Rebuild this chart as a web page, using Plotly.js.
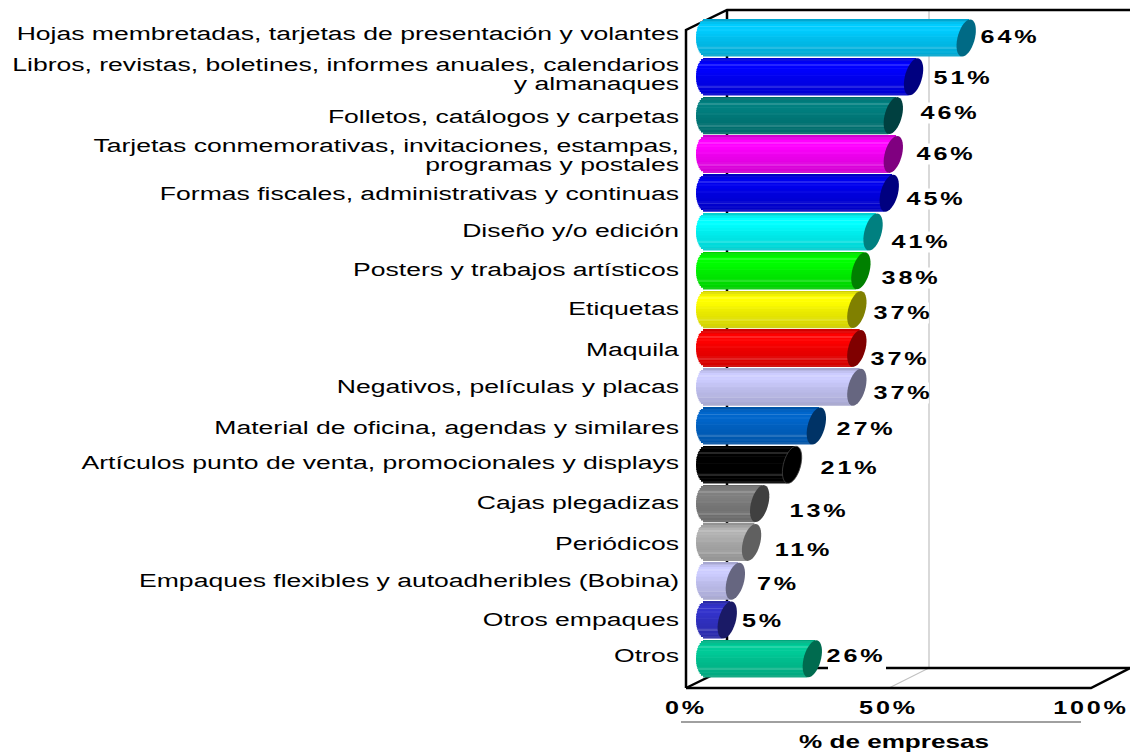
<!DOCTYPE html>
<html><head><meta charset="utf-8">
<script src="https://cdn.plot.ly/plotly-3.0.1.min.js"></script>
<style>
html,body{margin:0;padding:0;background:#fff}
.ytick{transform-box:fill-box;transform-origin:right center;transform:scaleX(1.475)}
.xtick text{letter-spacing:2px}
.xtick{transform-box:fill-box;transform-origin:center center;transform:scaleX(1.4)}
.annotation text{letter-spacing:2px}
.annotation{transform-box:fill-box;transform-origin:center center;transform:scaleX(1.4)}
.xtitle{transform-box:fill-box;transform-origin:center center;transform:translateX(-11px) scaleX(1.45)}
</style></head>
<body><div id="chart" style="width:1130px;height:753px"></div>
<script>
var categories = [
 "Hojas membretadas, tarjetas de presentación y volantes",
 "Libros, revistas, boletines, informes anuales, calendarios<br>y almanaques",
 "Folletos, catálogos y carpetas",
 "Tarjetas conmemorativas, invitaciones, estampas,<br>programas y postales",
 "Formas fiscales, administrativas y continuas",
 "Diseño y/o edición",
 "Posters y trabajos artísticos",
 "Etiquetas",
 "Maquila",
 "Negativos, películas y placas",
 "Material de oficina, agendas y similares",
 "Artículos punto de venta, promocionales y displays",
 "Cajas plegadizas",
 "Periódicos",
 "Empaques flexibles y autoadheribles (Bobina)",
 "Otros empaques",
 "Otros"
];
var values = [64,51,46,46,45,41,38,37,37,37,27,21,13,11,7,5,26];
var valueLabels = ["64%","51%","46%","46%","45%","41%","38%","37%","37%","37%","27%","21%","13%","11%","7%","5%","26%"];
var xTickVals = [0,50,100];
var xTickText = ["0%","50%","100%"];

/* styles */
var bodyColors = ["#00CCFF","#0000FF","#008080","#FF00FF","#0000EE","#00FFFF","#00FF00","#FFFF00","#FF0000","#CCCCFF","#0066CC","#000000","#808080","#B2B2B2","#CCCCFF","#3333CC","#00CC99"];
var capColors  = ["#006A85","#000080","#004040","#800080","#000080","#008080","#008000","#808000","#800000","#666680","#003366","#000000","#404040","#606060","#666680","#1A1A66","#006B4F"];
var labelDxPx = [45,50.5,58,54,48,49,51,47,44,47,51,59,60,53,44,37,45];
var labelDyPx = [-1,1,-3,-0.5,5.5,10,7,3,10.5,5.5,3,3,7.5,7.5,2.5,1,-3];
var tickNudgePx = [-4,0,1,3,0,-1,-1,-1,1,-1,2,-2,-1,1,-1,0,-3];
var bandShade = [0.82,0.88,0.95,1,1,1,1,0.99,0.98,0.96,0.95,0.93,0.92,0.91,0.9,0.89,0.88,0.87,0.86,0.85,0.84,0.8];
var bandStripe = [0,0.05,0,0,0.15,0,0.04,0,0,0,0.03,0,0,0,0,0,0.04,0.15,0,0.04,0,0.08];

/* geometry: reference pixel scales */
var pxPerUnitX = 4.05, pxPerUnitY = 38.8;
var x0px = 686, y0px = 38;
function xOf(p){return (p-x0px)/pxPerUnitX;}
function yOf(p){return (p-y0px)/pxPerUnitY;}
var plotL = 680, plotR = 1130, plotT = 5, plotB = 695;
var barBase = xOf(706);
var ry = 18.5/pxPerUnitY, rxL = 10/pxPerUnitX, rxR = 8.8/pxPerUnitX, shear = 4/pxPerUnitX, capShift = 1/pxPerUnitX;

function mix(hex, shade, stripe){
  var c=[1,3,5].map(function(k){return parseInt(hex.substr(k,2),16);});
  c=c.map(function(v){var s=v*shade; return Math.round(s+(255-s)*stripe);});
  return 'rgb('+c.join(',')+')';
}
var idx = categories.map(function(_,i){return i;});
var traces = [];
var N = bandShade.length;
bandShade.forEach(function(sh,b){
  var t = 1-(2*b+1)/N;
  var round = rxL*Math.sqrt(1-t*t);
  traces.push({
    type:'bar', orientation:'h', hoverinfo:'skip', showlegend:false,
    y: idx.map(function(i){return i-t*ry;}),
    x: values.map(function(v){return v+shear*t+round;}),
    base: values.map(function(){return barBase-round;}),
    width: 2*ry/N*1.12,
    marker:{color: bodyColors.map(function(c){return mix(c,sh,bandStripe[b]);}), line:{width:0}}
  });
});

function seg(pts,color,w,dash){
  var d='M'+pts.map(function(p){return xOf(p[0])+','+yOf(p[1]);}).join('L');
  return {type:'path',path:d,xref:'x',yref:'y',layer:'below',line:{color:color,width:w,dash:dash||'solid'}};
}
var shapes = [
  seg([[889,688],[929,668],[929,10]],'#C0C0C0',1.2),
  seg([[727,10],[727,668]],'#000',2.5),
  seg([[686,688],[686,30],[727,10],[1130,10]],'#000',2.5),
  seg([[686,688],[727,668],[1130,668]],'#000',2.5),
  seg([[686,688],[1091,688],[1130,668]],'#000',2.5),
  seg([[828,668],[886,668]],'#fff',4),
  {type:'line',xref:'x',yref:'paper',layer:'below',x0:xOf(681),x1:xOf(1081),
   y0:(plotB-722)/(plotB-plotT),y1:(plotB-722)/(plotB-plotT),line:{color:'#808080',width:1.5}}
];
values.forEach(function(v,i){
  var cx=barBase+v+capShift, pts=[];
  for(var a=0;a<36;a++){
    var th=a/36*2*Math.PI, s=Math.sin(th);
    pts.push((cx+rxR*Math.cos(th)+shear*s)+','+(i-ry*s));
  }
  var isBlack = capColors[i]==='#000000';
  shapes.push({type:'path',path:'M'+pts.join('L')+'Z',xref:'x',yref:'y',layer:'above',
    fillcolor:capColors[i],line:{width:isBlack?0.8:0,color:'#444444'}});
});

var annotations = values.map(function(v,i){
  return {x:barBase+v,y:i,xref:'x',yref:'y',text:valueLabels[i],showarrow:false,
    xanchor:'center',yanchor:'middle',xshift:labelDxPx[i],yshift:-labelDyPx[i],
    bgcolor:'#fff',borderpad:0,
    font:{family:'Liberation Sans, Arial, sans-serif',size:18,color:'#000',weight:700}};
});

var layout = {
  width:1130,height:753,paper_bgcolor:'#fff',plot_bgcolor:'rgba(0,0,0,0)',
  margin:{l:plotL,r:1130-plotR,t:plotT,b:753-plotB,pad:0},
  barmode:'overlay',showlegend:false,
  xaxis:{range:[xOf(plotL),xOf(plotR)],tickvals:xTickVals,ticktext:xTickText,
    showgrid:false,zeroline:false,showline:false,ticks:'',
    tickfont:{family:'Liberation Sans, Arial, sans-serif',size:18,color:'#000',weight:700},
    title:{text:'% de empresas',standoff:18,font:{family:'Liberation Sans, Arial, sans-serif',size:18,color:'#000',weight:700}}},
  yaxis:{range:[yOf(plotB),yOf(plotT)],tickvals:idx.map(function(i){return i+tickNudgePx[i]/pxPerUnitY;}),ticktext:categories,
    showgrid:false,zeroline:false,showline:false,ticks:'',
    tickfont:{family:'Liberation Sans, Arial, sans-serif',size:18,color:'#000'}},
  shapes:shapes,annotations:annotations
};
Plotly.newPlot('chart',traces,layout,{displayModeBar:false,responsive:false}).then(function(){
  document.querySelectorAll('.ytick tspan.line').forEach(function(t){
    var d=t.getAttribute('dy');
    if(d && parseFloat(d)>0) t.setAttribute('dy','1.05em');
  });
});
</script></body></html>
